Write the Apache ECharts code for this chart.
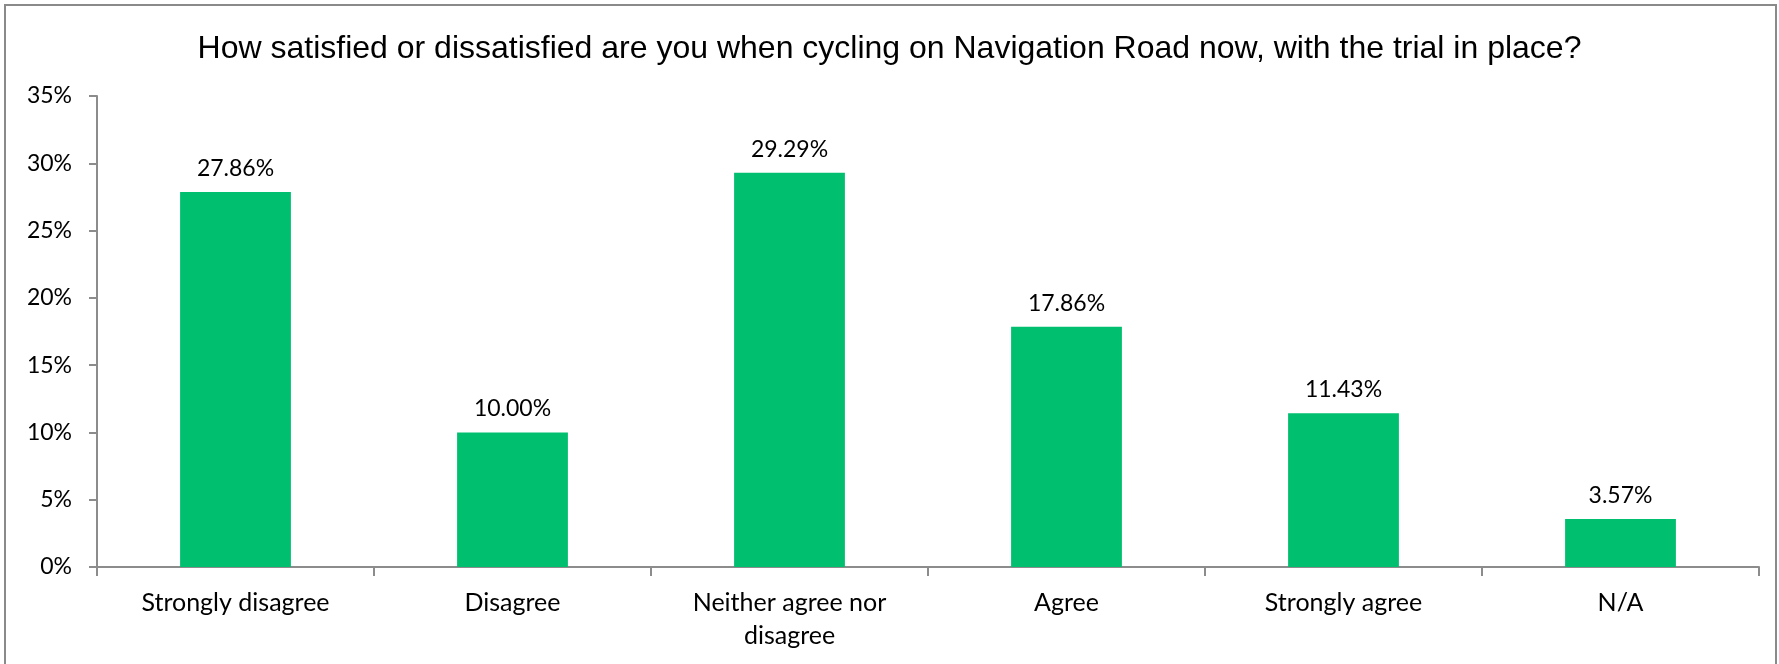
<!DOCTYPE html>
<html>
<head>
<meta charset="utf-8">
<script src="https://cdn.jsdelivr.net/npm/echarts@6/dist/echarts.min.js"></script>
<style>
  html, body { margin: 0; padding: 0; background: #fff; }
  #chart { width: 1779px; height: 664px; }
</style>
</head>
<body>
<div id="chart"></div>
<script>
const titleText = 'How satisfied or dissatisfied are you when cycling on Navigation Road now, with the trial in place?'
const categories = ['Strongly disagree', 'Disagree', 'Neither agree nor\ndisagree', 'Agree', 'Strongly agree', 'N/A']
const shares = [27.86, 10.00, 29.29, 17.86, 11.43, 3.57]
const yTicks = [0, 5, 10, 15, 20, 25, 30, 35]

const axisGrey = '#8c8c8c'
const labelFont = 'Lato, "Open Sans", sans-serif'

var myChart = echarts.init(document.getElementById('chart'))
var option = {
  backgroundColor: '#fff',
  animation: false,
  title: {
    text: titleText,
    left: 'center',
    top: 28,
    textStyle: {
      fontFamily: '"Liberation Sans", Arial, sans-serif',
      fontWeight: 'normal',
      fontSize: 32,
      color: '#000'
    }
  },
  graphic: [{
    type: 'rect',
    shape: { x: 5, y: 5, width: 1771, height: 700 },
    style: { fill: 'none', stroke: '#8a8a8a', lineWidth: 2 },
    silent: true
  }],
  grid: { left: 97, right: 20, top: 96, bottom: 97 },
  xAxis: {
    type: 'category',
    data: categories,
    axisLine: { lineStyle: { color: axisGrey, width: 2 } },
    axisTick: { show: true, length: 9, lineStyle: { color: axisGrey, width: 2 } },
    axisLabel: {
      interval: 0,
      margin: 19,
      fontFamily: labelFont,
      fontSize: 25,
      lineHeight: 33,
      color: '#000'
    }
  },
  yAxis: {
    type: 'value',
    min: yTicks[0],
    max: yTicks[yTicks.length - 1],
    interval: 5,
    splitLine: { show: false },
    axisLine: { show: true, lineStyle: { color: axisGrey, width: 2 } },
    axisTick: { show: true, length: 8, lineStyle: { color: axisGrey, width: 2 } },
    axisLabel: {
      margin: 25,
      formatter: function (v) { return v + '%' },
      fontFamily: labelFont,
      fontSize: 23,
      color: '#000'
    }
  },
  series: [{
    type: 'bar',
    data: shares,
    barWidth: '40%',
    itemStyle: { color: '#00BF6F' },
    label: {
      show: true,
      position: 'top',
      distance: 12,
      formatter: function (p) { return p.value.toFixed(2) + '%' },
      fontFamily: labelFont,
      fontSize: 23,
      color: '#000'
    }
  }]
}
option && myChart.setOption(option)
</script>
</body>
</html>
